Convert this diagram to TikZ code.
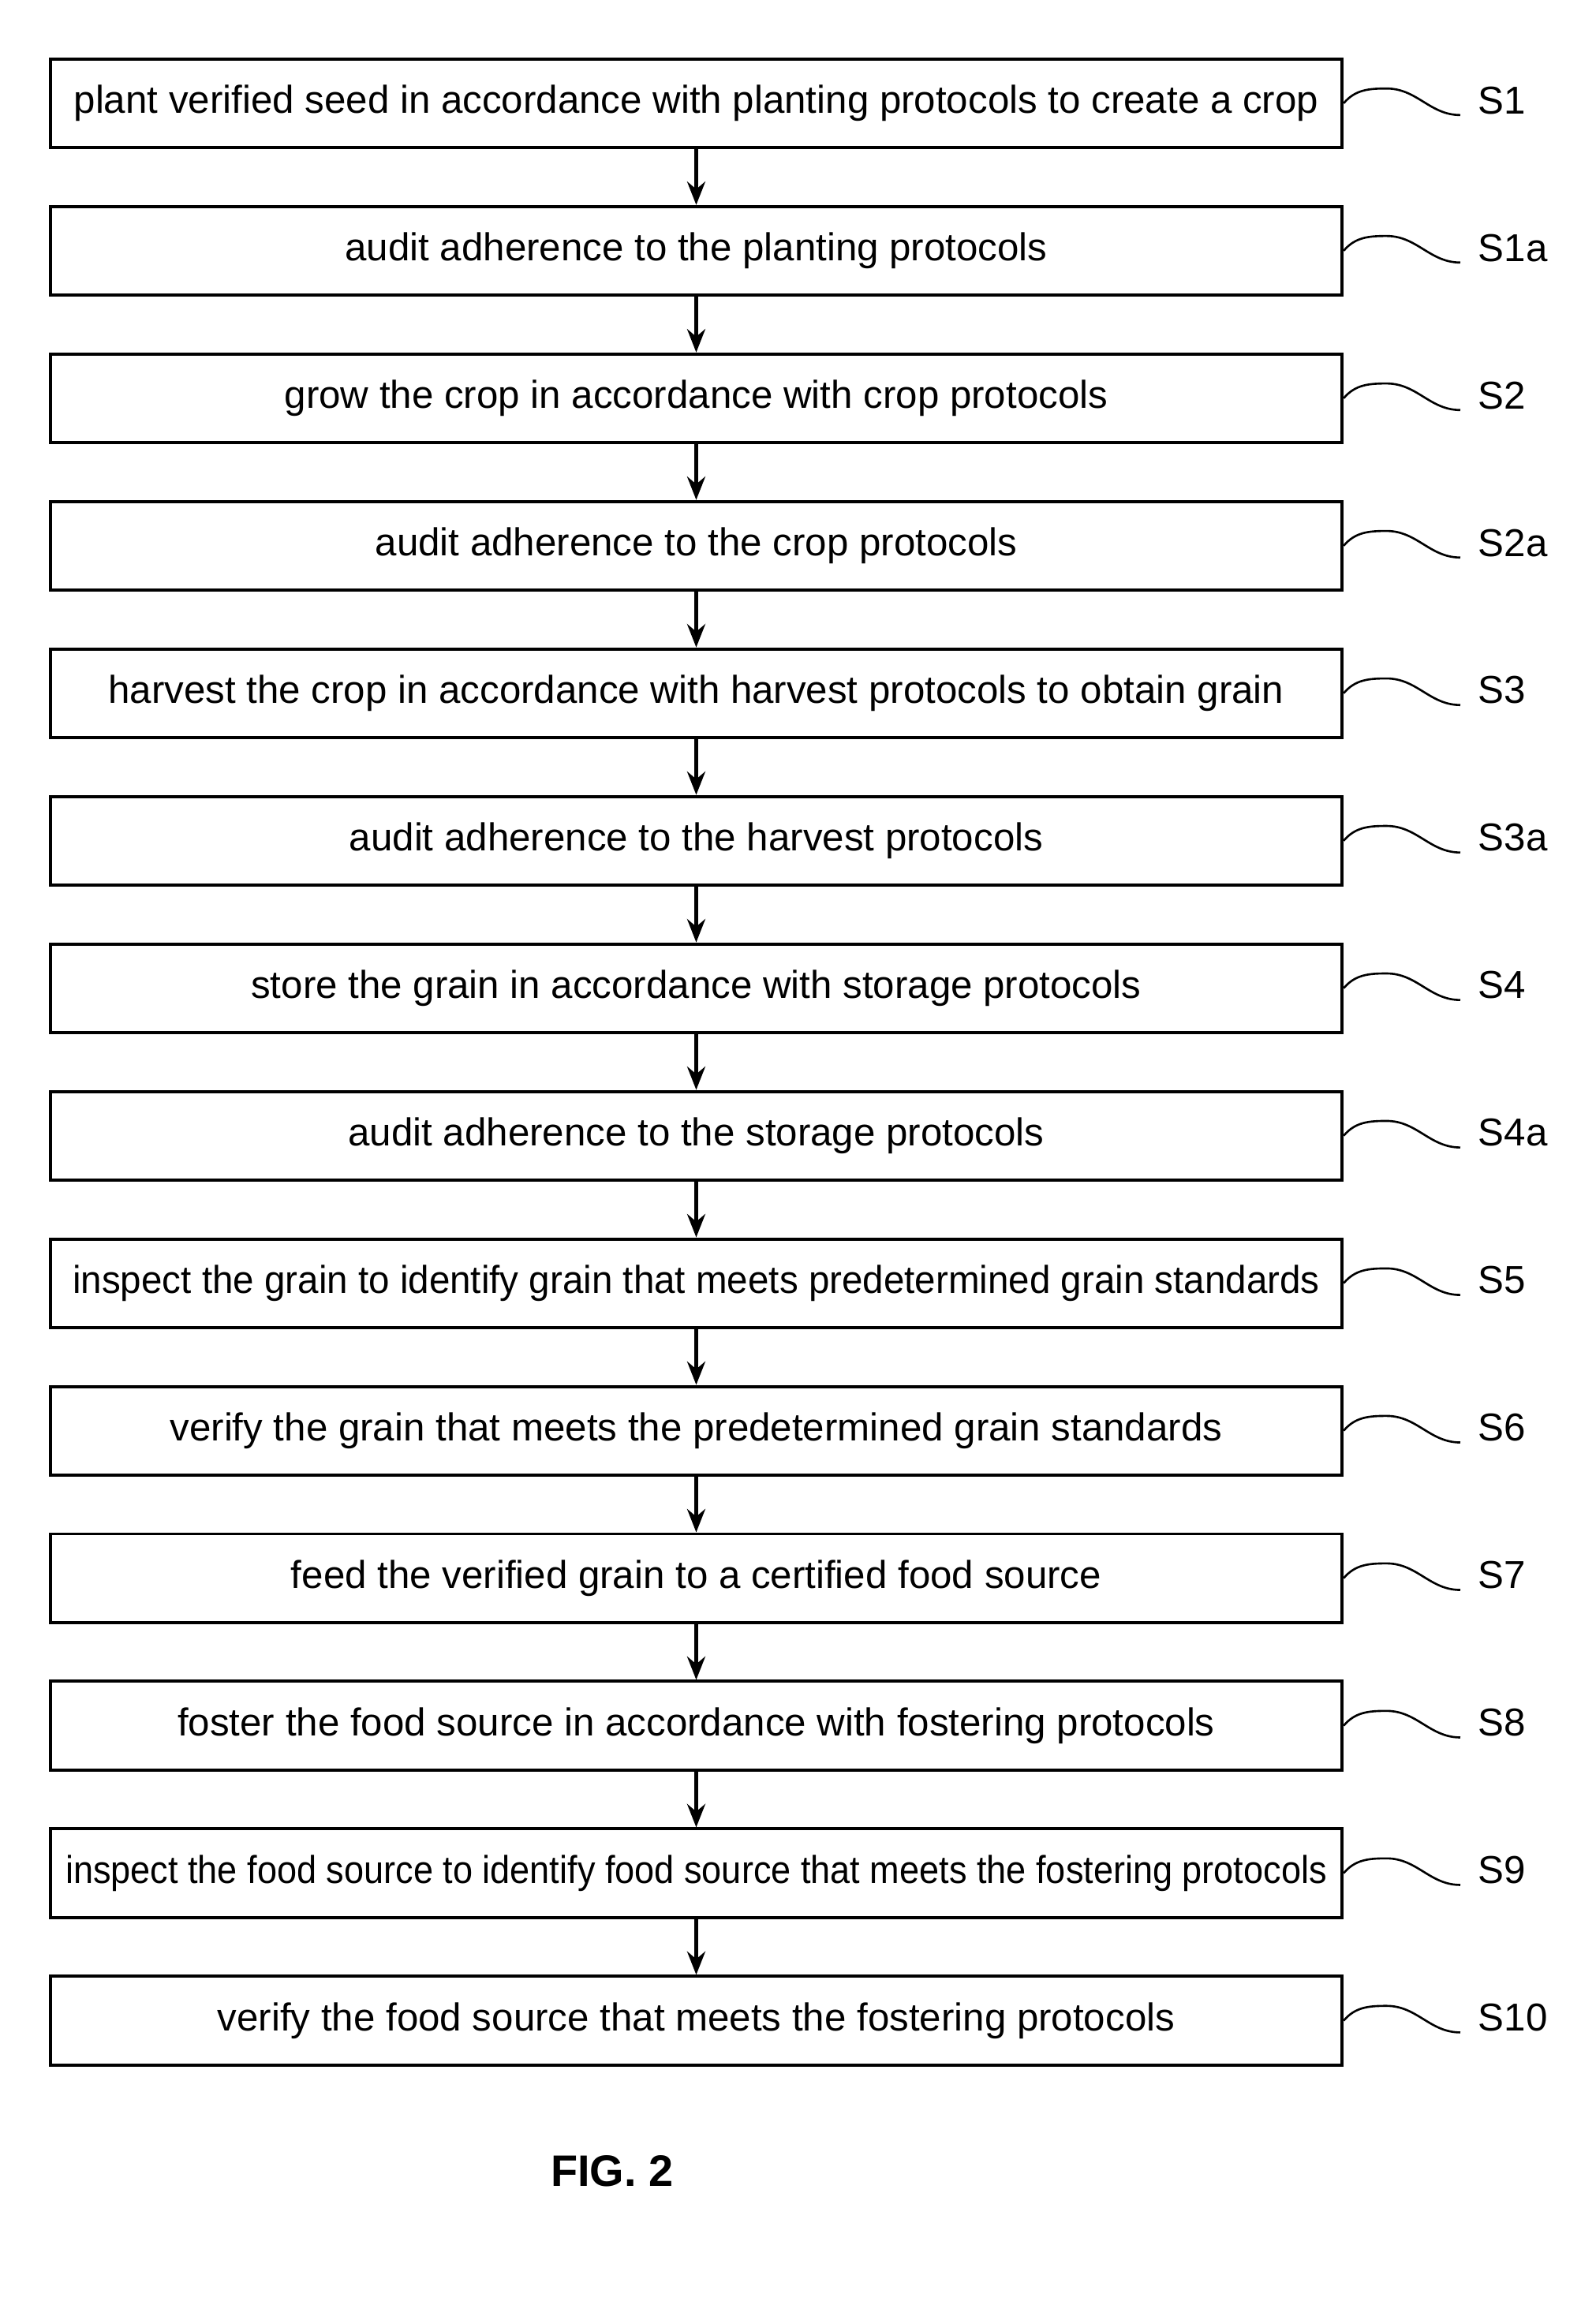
\documentclass[tikz,border=0pt]{standalone}
\usepackage{fontspec}
\setmainfont{Liberation Sans}
\usetikzlibrary{positioning}
\tikzset{
  stepbox/.style={draw=black, line width=1.2pt, minimum width=17.52cm, minimum height=1.2cm, inner sep=0pt, align=center, font=\fontsize{15}{18}\selectfont},
  flow/.style={-{Stealth[length=9pt,width=7pt]}, line width=1.4pt},
  tag/.style={font=\fontsize{15}{18}\selectfont, anchor=west},
}
\usetikzlibrary{arrows.meta}
\begin{document}
\begin{tikzpicture}[x=0.02cm, y=-0.02cm]
\useasboundingbox (0,0) rectangle (1082,1573);
\foreach \i/\txt/\lbl/\sx in {
  0/plant verified seed in accordance with planting protocols to create a crop/S1/1,
  1/audit adherence to the planting protocols/S1a/1,
  2/grow the crop in accordance with crop protocols/S2/1,
  3/audit adherence to the crop protocols/S2a/1,
  4/harvest the crop in accordance with harvest protocols to obtain grain/S3/1,
  5/audit adherence to the harvest protocols/S3a/1,
  6/store the grain in accordance with storage protocols/S4/1,
  7/audit adherence to the storage protocols/S4a/1,
  8/inspect the grain to identify grain that meets predetermined grain standards/S5/0.965,
  9/verify the grain that meets the predetermined grain standards/S6/1,
  10/feed the verified grain to a certified food source/S7/1,
  11/foster the food source in accordance with fostering protocols/S8/1,
  12/inspect the food source to identify food source that meets the fostering protocols/S9/0.915,
  13/verify the food source that meets the fostering protocols/S10/1}
{
  \node[stepbox] (box\i) at (472,{70+100*\i}) {\scalebox{\sx}[1]{\txt}};
  \coordinate (end\i) at (990,{78+100*\i});
  \draw[line width=0.8pt] (box\i.east) to[out=50,in=180] (940,{60+100*\i}) to[out=0,in=180] (end\i);
  \node[tag] (lbl\i) at (996,{68+100*\i}) {\lbl};
}
\foreach \i [evaluate=\i as \j using int(\i+1)] in {0,...,12}
  \draw[flow] (box\i) -- (box\j);
\node[font=\bfseries\fontsize{17}{20}\selectfont] (fig) at (415,1472) {FIG. 2};
\end{tikzpicture}
\end{document}
